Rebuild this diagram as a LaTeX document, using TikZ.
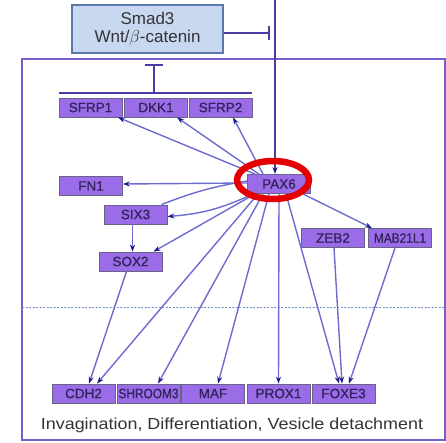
\documentclass[tikz,border=0pt]{standalone}
\usepackage{fontspec}
\setmainfont{Liberation Sans}
\newfontfamily\capfont[FakeStretch=1.12]{Liberation Sans}
\newfontfamily\genefont[FakeBold=0.8]{Liberation Sans}
\newfontfamily\narrowfont[FakeStretch=0.88,FakeBold=0.8]{Liberation Sans}
\usetikzlibrary{arrows.meta,shapes.geometric}
\definecolor{genefill}{RGB}{154,108,232}
\definecolor{genedraw}{RGB}{105,100,135}
\definecolor{genetext}{RGB}{50,35,90}
\definecolor{frame}{RGB}{122,92,200}
\definecolor{smadfill}{RGB}{200,216,240}
\definecolor{smaddraw}{RGB}{90,120,170}
\definecolor{edge}{RGB}{108,108,208}
\definecolor{tipc}{RGB}{25,25,140}
\definecolor{topline}{RGB}{75,60,165}
\definecolor{dashc}{RGB}{120,140,220}
\definecolor{ring}{RGB}{228,0,0}
\tikzset{
  gene/.style={draw=genedraw, fill=genefill, line width=0.8pt, minimum width=63pt,
    minimum height=19pt, inner sep=0pt, text=genetext,
    font=\fontsize{13.5}{15}\genefont},
  act/.style={draw=edge, line width=1.4pt, -{Stealth[length=7pt,width=5pt,color=tipc]}},
  plainedge/.style={draw=edge, line width=1.4pt},
  inhib/.style={draw=topline, line width=1.2pt},
}
\begin{document}
\begin{tikzpicture}[x=1pt,y=-1pt]
\useasboundingbox (0,0) rectangle (446,442);
% outer frame
\draw[frame, line width=2pt] (22,59) rectangle (445,440);
\draw[dashc, line width=1pt, dash pattern=on 2pt off 1.5pt] (22,307) -- (445,307);

% Smad3 box
\node[draw=smaddraw, fill=smadfill, line width=1.5pt, minimum width=151pt, minimum height=48pt,
  inner sep=0pt, align=center, font=\fontsize{17}{18}\selectfont, text=black!80]
  (smad) at (147.5,29) {Smad3\\Wnt/$\beta$-catenin};

% genes
\node[gene] (sfrp1) at (90.5,107.5) {SFRP1};
\node[gene] (dkk1) at (156,107.5) {DKK1};
\node[gene] (sfrp2) at (220.5,107.5) {SFRP2};
\node[gene] (fn1) at (91,186) {FN1};
\node[gene] (pax6) at (279,184) {PAX6};
\node[gene] (six3) at (135.5,214.5) {SIX3};
\node[gene] (zeb2) at (333,238) {ZEB2};
\node[gene, font={\fontsize{13.5}{15}\narrowfont}] (mab) at (400,238) {MAB21L1};
\node[gene] (sox2) at (130.5,261.5) {SOX2};
\node[gene] (cdh2) at (83.5,393.5) {CDH2};
\node[gene, font={\fontsize{13.5}{15}\narrowfont}] (shroom3) at (148.5,393.5) {SHROOM3};
\node[gene] (maf) at (213,393.5) {MAF};
\node[gene] (prox1) at (278.5,393.5) {PROX1};
\node[gene] (foxe3) at (343.5,393.5) {FOXE3};

% inhibition from Smad3 / top line
\coordinate (topend) at (275,0);
\coordinate (smadbar) at (269,33);
\draw[inhib] (smad.east |- smadbar) -- (smadbar);
\draw[inhib] ([yshift=-7]smadbar) -- ([yshift=7]smadbar);
\draw[topline, line width=1.3pt, -{Stealth[length=7pt,width=5pt,color=tipc]}] (topend) -- (topend |- pax6.north);

% inhibition bar over SFRP/DKK group
\coordinate (tbar) at (154,65);
\coordinate (hbar) at (154,93);
\draw[inhib] (tbar) -- (hbar);
\draw[inhib] ([xshift=-9]tbar) -- ([xshift=9]tbar);
\draw[inhib] (sfrp1.west |- hbar) -- (sfrp2.east |- hbar);

% PAX6 targets
\draw[act] ([xshift=-24]pax6.north) -- ([xshift=27.5]sfrp1.south);
\draw[act] ([xshift=-20]pax6.north) -- ([xshift=21]dkk1.south);
\draw[act] ([xshift=-16]pax6.north) -- ([xshift=12.5]sfrp2.south);
\draw[act] ([yshift=1]pax6.west) -- (fn1.east |- pax6.west);
\draw[plainedge] ([yshift=3]pax6.west) to[bend right=6] ([xshift=26]six3.north);
\draw[act] ([xshift=-28,yshift=-1]pax6.south) to[bend left=10] ([yshift=-2]six3.east);
\draw[act] ([xshift=-24]pax6.south) -- ([xshift=23]sox2.north);
\draw[act] ([xshift=-3]six3.south) -- ([xshift=2]sox2.north);
\draw[act] ([xshift=-4]sox2.south) -- ([xshift=5.5]cdh2.north);
\draw[act] ([xshift=-21]pax6.south) -- ([xshift=13.5]cdh2.north);
\draw[act] ([xshift=-16]pax6.south) -- ([xshift=9.5]shroom3.north);
\draw[act] ([xshift=-10]pax6.south) -- ([xshift=5]maf.north);
\draw[act] (pax6.south) -- (prox1.north);
\draw[act] ([xshift=7]pax6.south) -- ([xshift=-4.5]foxe3.north);
\draw[act] ([xshift=1]zeb2.south) -- ([xshift=-1.5]foxe3.north);
\draw[act] ([xshift=-5]mab.south) -- ([xshift=5.5]foxe3.north);
\draw[act] ([xshift=-8]pax6.south east) -- ([xshift=-28]mab.north);

% highlight ring
\draw[ring, line width=6.5pt] (273,180) ellipse [x radius=36, y radius=19];

% caption
\node[font=\fontsize{16}{18}\capfont, text=black!80] (cap) at (232,425)
  {Invagination, Differentiation, Vesicle detachment};
\end{tikzpicture}
\end{document}
